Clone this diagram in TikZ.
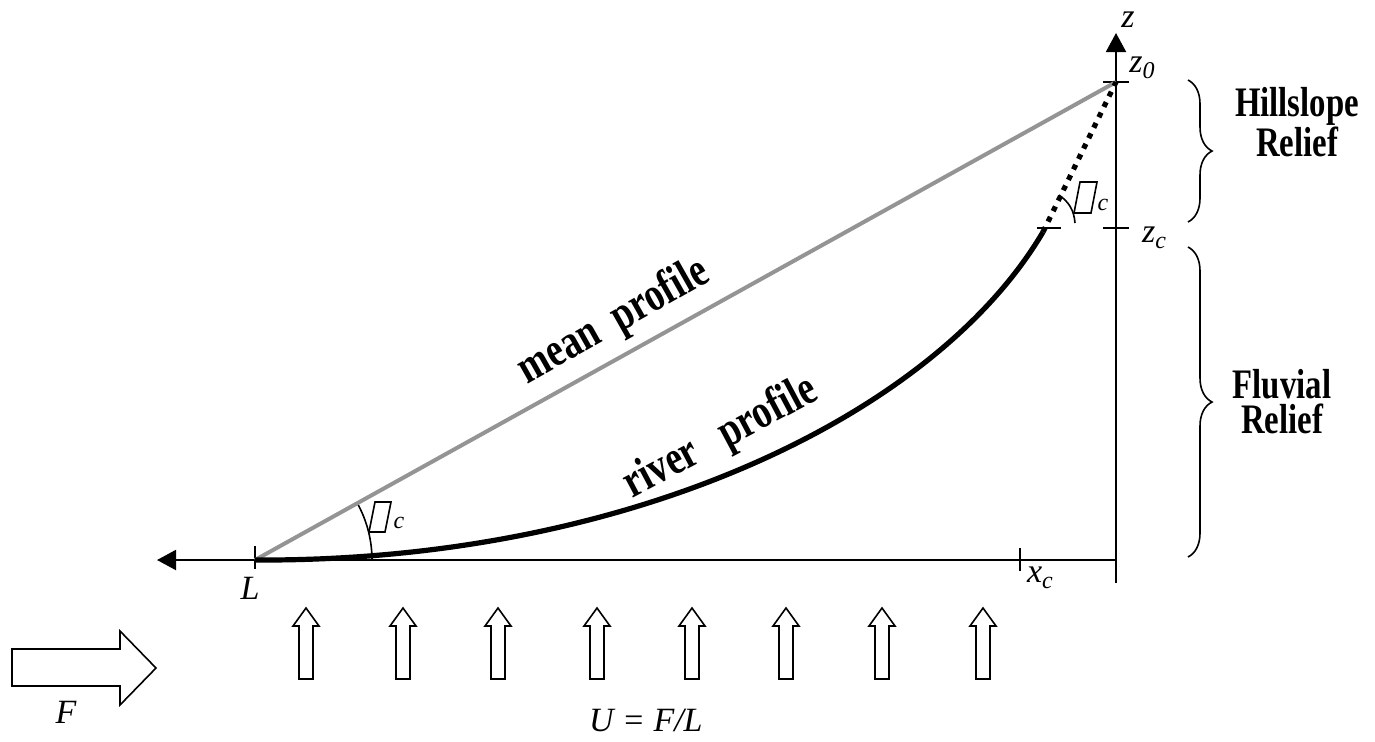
\documentclass[tikz,border=0pt]{standalone}
\usepackage{fontspec}
\setmainfont{Liberation Serif}
\newfontfamily\condbold[FakeStretch=0.78]{Liberation Serif Bold}
\usetikzlibrary{arrows.meta,decorations.pathreplacing}
\newcommand{\withsub}[2]{\textit{#1}\raisebox{-0.4ex}{\fontsize{12}{13}\selectfont\textit{#2}}}

\begin{document}
\begin{tikzpicture}[x=0.5pt,y=-0.5pt,>={Triangle[length=9.5pt,width=10pt]},line width=1pt,
  every node/.style={inner sep=0pt,font=\fontsize{17}{19}\selectfont\itshape},
  meanline/.style={draw=black!42,line width=2pt},
  riverline/.style={line width=2.6pt},
  hillline/.style={line width=2.6pt,dash pattern=on 2.6pt off 3.2pt},
  relbrace/.style={decorate,decoration={brace,amplitude=12pt},line width=0.8pt},
  boldlabel/.style={font=\condbold\fontsize{21}{17.5}\selectfont,align=center},
  profilelabel/.style={font=\condbold\fontsize{24}{25}\selectfont},
  hollow/.style={draw,fill=white,line width=0.8pt,line join=miter}]
\useasboundingbox (0,0) rectangle (1375,741);
% axes
\coordinate (L) at (255,560);\coordinate (O) at (1116,560);
\coordinate (xend) at (157,560);\coordinate (zend) at (1116,33);\coordinate (zbot) at (1116,583);
\coordinate (xc) at (1020,560);\coordinate (z0) at (1116,82);\coordinate (zc) at (1116,228);
\coordinate (rend) at (1043,232);\coordinate (rtick) at (1049,228);
\draw[->] (O)--(xend);\draw[->] (zbot)--(zend);
\draw (L) ++(0,-14) -- ++(0,23);\draw (xc) ++(0,-12) -- ++(0,23);
\draw (z0) ++(-13,0) -- ++(26,0);\draw (zc) ++(-13,0) -- ++(26,0);\draw (rtick) ++(-12,0) -- ++(24,0);
% profiles
\draw[meanline] (L)--(z0);
\draw[riverline] (L) .. controls (630,562) and (935,415) .. (rend);
\draw[hillline] (rend)--(z0);
% angles
\draw[line width=0.8pt] (L) ++(117,0) arc[start angle=0,end angle=-28,radius=117];
\draw[line width=0.8pt] (1059,195) to[bend left=25] (1075,223);
\draw[line width=0.8pt] (375,502)--(391,502)--(385,532)--(369,532)--cycle;
\draw[line width=0.8pt] (1080,182)--(1097,182)--(1091,213)--(1074,213)--cycle;
\node(angl) at (399,523){\fontsize{12}{12}\selectfont c};
\node(angh) at (1103,205){\fontsize{12}{12}\selectfont c};
% labels
\node(zlab) at (1128,20){z};
\node(z0lab) at (1142,68){\withsub{z}{0}};
\node(zclab) at (1154,238){\withsub{z}{c}};
\node(Llab) at (250,588){L};
\node(xclab) at (1040,578){\withsub{x}{c}};
\node[profilelabel,rotate=29.5](mean) at (614,322){mean\ \ profile};
\node[profilelabel,rotate=28](river) at (721,438){river\ \ \ profile};
% relief braces
\draw[relbrace] (1188,80)--(1188,222);
\draw[relbrace] (1188,247)--(1188,557);
\node[boldlabel](hill) at (1297,122){Hillslope\\Relief};
\node[boldlabel](fluv) at (1282,402){Fluvial\\Relief};
% uplift and flux
\foreach \x in {306,403,498,597,692,786,882,983}
  \draw[hollow] (\x,608) -- ++(13,18) -- ++(-6,0) -- ++(0,53) -- ++(-14,0) -- ++(0,-53) -- ++(-6,0) -- cycle;
\draw[hollow] (12,649)--(120,649)--(120,631)--(156,668)--(120,705)--(120,686)--(12,686)--cycle;
\node(Flab) at (66,712){F};
\node[anchor=west](Ulab) at (588,720){U = F/L};
\end{tikzpicture}
\end{document}
